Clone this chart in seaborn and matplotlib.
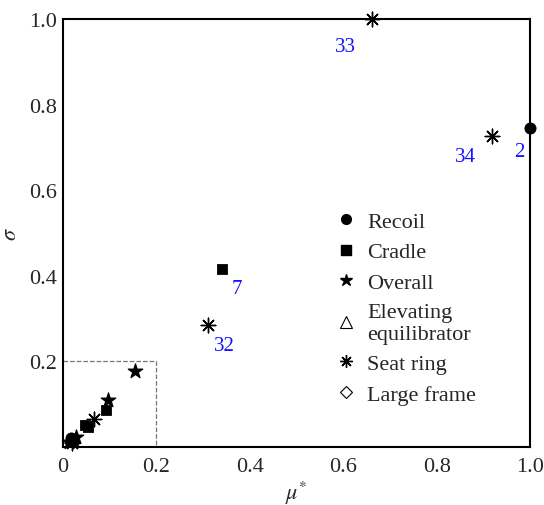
import matplotlib
matplotlib.use("Agg")
import matplotlib.pyplot as plt
import seaborn as sns
from matplotlib.lines import Line2D

sns.set_style("white")
plt.rcParams['font.family'] = ['Liberation Serif', 'DejaVu Serif']
plt.rcParams['mathtext.fontset'] = 'stix'

# data
recoil_mu = [1.0, 0.018]
recoil_sigma = [0.745, 0.02]
cradle_mu = [0.34, 0.092, 0.047, 0.054, 0.022]
cradle_sigma = [0.415, 0.086, 0.052, 0.046, 0.016]
overall_mu = [0.154, 0.096, 0.028, 0.012]
overall_sigma = [0.178, 0.11, 0.024, 0.012]
seat_mu = [0.662, 0.919, 0.31, 0.066, 0.02]
seat_sigma = [1.0, 0.727, 0.285, 0.065, 0.01]

labels_text = ["33", "34", "2", "7", "32"]
labels_mu = [0.662, 0.919, 1.0, 0.34, 0.31]
labels_sigma = [1.0, 0.727, 0.745, 0.415, 0.285]
labels_off = [(-19, -20), (-19, -15), (-8, -17), (11, -14), (12, -15)]

legend_names = ["Recoil", "Cradle", "Overall", "Elevating\nequilibrator", "Seat ring", "Large frame"]

fig = plt.figure(figsize=(5.44, 5.06), dpi=100)
ax = fig.add_axes([63 / 544, 58 / 506, 467 / 544, 428 / 506])

asterisk = (8, 2, 0)
sns.scatterplot(x=recoil_mu, y=recoil_sigma, marker='o', color='black', s=64, edgecolor='black', ax=ax, clip_on=False, zorder=5)
sns.scatterplot(x=cradle_mu, y=cradle_sigma, marker='s', color='black', s=52, edgecolor='black', ax=ax, clip_on=False, zorder=5)
sns.scatterplot(x=overall_mu, y=overall_sigma, marker='*', color='black', s=120, edgecolor='black', ax=ax, clip_on=False, zorder=5)
sns.scatterplot(x=seat_mu, y=seat_sigma, marker=asterisk, color='black', s=110, linewidth=1.0, ax=ax, clip_on=False, zorder=5)

for t, x, y, off in zip(labels_text, labels_mu, labels_sigma, labels_off):
    ax.annotate(t, (x, y), xytext=off, textcoords='offset points', color='#1414ff',
                fontsize=15, ha='center', va='center')

# dashed zoom box
ax.plot([0, 0.2, 0.2], [0.2, 0.2, 0], ls='--', color='#777777', lw=0.9)

ax.set_xlim(0, 1.0)
ax.set_ylim(0, 1.0)
ax.set_xticks([0, 0.2, 0.4, 0.6, 0.8, 1.0])
ax.set_xticklabels(["0", "0.2", "0.4", "0.6", "0.8", "1.0"])
ax.set_yticks([0.2, 0.4, 0.6, 0.8, 1.0])
ax.set_yticklabels(["0.2", "0.4", "0.6", "0.8", "1.0"])
ax.tick_params(direction='in', length=5, width=2.2, labelsize=16)
ax.tick_params(axis='x', pad=7)
ax.tick_params(axis='y', pad=4)
for sp in ax.spines.values():
    sp.set_linewidth(1.5)
    sp.set_color('black')

ax.set_xlabel(r'$\mu^{*}$', fontsize=16, labelpad=2)
ax.set_ylabel(r'$\sigma$', fontsize=16, labelpad=6)

handles = [
    Line2D([], [], ls='none', marker='o', color='black', markersize=7),
    Line2D([], [], ls='none', marker='s', color='black', markersize=7),
    Line2D([], [], ls='none', marker='*', color='black', markersize=9),
    Line2D([], [], ls='none', marker='^', markerfacecolor='none', markeredgecolor='black', markersize=8, markeredgewidth=0.8),
    Line2D([], [], ls='none', marker=asterisk, color='black', markersize=9, markeredgewidth=1.0),
    Line2D([], [], ls='none', marker='D', markerfacecolor='none', markeredgecolor='black', markersize=6, markeredgewidth=0.8),
]
ax.legend(handles, legend_names, loc='upper left', bbox_to_anchor=(0.582, 0.551), frameon=False,
          fontsize=16, labelspacing=0.45, handletextpad=0.45, handlelength=1.0,
          borderpad=0, borderaxespad=0)

fig.savefig("out.png", dpi=100)
